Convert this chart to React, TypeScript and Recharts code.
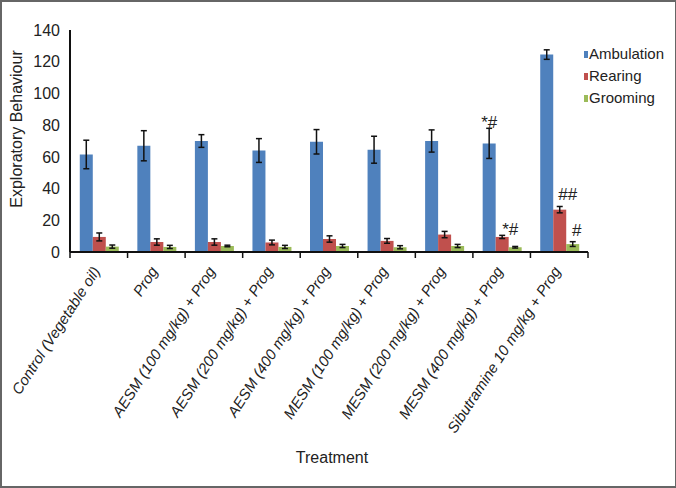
import React from 'react';
import { BarChart, Bar, XAxis, YAxis, ErrorBar, Legend, LabelList, Label } from 'recharts';

const treatments = [
    'Control (Vegetable oil)',
    'Prog',
    'AESM (100 mg/kg) + Prog',
    'AESM (200 mg/kg) + Prog',
    'AESM (400 mg/kg) + Prog',
    'MESM (100 mg/kg) + Prog',
    'MESM (200 mg/kg) + Prog',
    'MESM (400 mg/kg) + Prog',
    'Sibutramine 10 mg/kg + Prog',
];
const ambulation = [61.5, 67, 70, 64, 69.5, 64.5, 70, 68.5, 124.5];
const ambulationErr = [9, 9.5, 4, 7.5, 7.7, 8.5, 7, 9.5, 3];
const rearing = [9.5, 6.3, 6.3, 6, 8.2, 7, 11, 9.5, 26.7];
const rearingErr = [2.5, 2, 2, 1.5, 2, 1.5, 2, 1, 2];
const grooming = [3.4, 3.2, 3.8, 3.2, 3.8, 3, 3.8, 3, 5];
const groomingErr = [1, 1, 0.5, 1, 1, 1, 1, 0.5, 1.5];
const ambulationMarks = ['', '', '', '', '', '', '', '*#', ''];
const rearingMarks = ['', '', '', '', '', '', '', '*#', '##'];
const groomingMarks = ['', '', '', '', '', '', '', '', '#'];
const yTicks = [0, 20, 40, 60, 80, 100, 120, 140];

const BLUE = '#4F81BD';
const RED = '#C0504D';
const GREEN = '#9BBB59';
const FONT = "'Liberation Sans', Arial, sans-serif";

const data = treatments.map((name, i) => ({
    name,
    idx: i,
    ambulation: ambulation[i],
    ambulationErr: ambulationErr[i],
    rearing: rearing[i],
    rearingErr: rearingErr[i],
    grooming: grooming[i],
    groomingErr: groomingErr[i],
}));

const legendItems = [
    { name: 'Ambulation', color: BLUE },
    { name: 'Rearing', color: RED },
    { name: 'Grooming', color: GREEN },
];

// significance marks sit just above the error bar cap
const makeMark = (marks: string[], means: number[], errs: number[], dx: number) => (props: any) => {
    const vb = props.viewBox ?? props;
    const i = Number(props.value);
    const mark = marks[i];
    if (!mark) return null;
    const x = props.x ?? vb.x;
    const y = props.y ?? vb.y;
    const w = props.width ?? vb.width;
    const h = props.height ?? vb.height;
    const unit = h / means[i];
    const top = y - errs[i] * unit;
    const lift = mark.startsWith('*') ? 0 : 6;
    return (
        <text x={x + w / 2 + dx} y={top - lift} textAnchor="middle" fontSize={17} fontFamily={FONT} fill="#222">
            {mark}
        </text>
    );
};

const TreatmentTick = (props: any) => {
    const { x, y, payload, index } = props;
    const half = payload?.offset || 28.75;
    return (
        <g>
            <line x1={x - half} y1={y} x2={x - half} y2={y + 6} stroke="#111" strokeWidth={1.5} />
            {index === treatments.length - 1 && (
                <line x1={x + half} y1={y} x2={x + half} y2={y + 6} stroke="#111" strokeWidth={1.5} />
            )}
            <text
                transform={`translate(${x + 2},${y + 19}) rotate(-57)`}
                textAnchor="end"
                fontStyle="italic"
                fontSize={15}
                fontFamily={FONT}
                fill="#222"
            >
                {payload.value}
            </text>
        </g>
    );
};

const LegendBox = () => (
    <div style={{ fontFamily: FONT, fontSize: 15, color: '#222' }}>
        {legendItems.map((item) => (
            <div key={item.name} style={{ display: 'flex', alignItems: 'center', height: 22 }}>
                <span style={{ width: 4, height: 7, background: item.color, marginRight: 1, marginTop: 3 }} />
                <span>{item.name}</span>
            </div>
        ))}
    </div>
);

export default function App() {
    return (
        <div style={{ position: 'absolute', left: 0, top: 0, width: 676, height: 488, background: '#fff' }}>
            <BarChart
                width={676}
                height={488}
                data={data}
                margin={{ top: 30, right: 4, left: 8, bottom: 20 }}
                barCategoryGap="17%"
                barGap={0}
            >
                <XAxis
                    dataKey="name"
                    interval={0}
                    height={216}
                    tickLine={false}
                    tickSize={0}
                    tickMargin={0}
                    axisLine={{ stroke: '#111', strokeWidth: 2 }}
                    tick={<TreatmentTick />}
                >
                    <Label
                        content={(p: any) => {
                            const vb = p.viewBox;
                            return (
                                <text x={vb.x + vb.width / 2 + 3} y={463} textAnchor="middle" fontSize={16} fontFamily={FONT} fill="#222">
                                    Treatment
                                </text>
                            );
                        }}
                    />
                </XAxis>
                <YAxis
                    width={62}
                    domain={[0, 140]}
                    ticks={yTicks}
                    tickLine={false}
                    tickMargin={4}
                    axisLine={{ stroke: '#111', strokeWidth: 2 }}
                    tick={{ fontSize: 16, fontFamily: FONT, fill: '#222' }}
                >
                    <Label
                        content={() => (
                            <text
                                transform="translate(16,129) rotate(-90)"
                                textAnchor="middle"
                                dominantBaseline="central"
                                fontSize={16}
                                fontFamily={FONT}
                                fill="#222"
                            >
                                Exploratory Behaviour
                            </text>
                        )}
                    />
                </YAxis>
                <Legend
                    layout="vertical"
                    align="right"
                    verticalAlign="top"
                    width={84}
                    wrapperStyle={{ top: 42, left: 584 }}
                    content={<LegendBox />}
                />
                <Bar dataKey="ambulation" name="Ambulation" fill={BLUE} isAnimationActive={false}>
                    <ErrorBar dataKey="ambulationErr" width={3} stroke="#111" strokeWidth={1.5} />
                    <LabelList dataKey="idx" content={makeMark(ambulationMarks, ambulation, ambulationErr, 0)} />
                </Bar>
                <Bar dataKey="rearing" name="Rearing" fill={RED} isAnimationActive={false}>
                    <ErrorBar dataKey="rearingErr" width={3} stroke="#111" strokeWidth={1.5} />
                    <LabelList dataKey="idx" content={makeMark(rearingMarks, rearing, rearingErr, 8)} />
                </Bar>
                <Bar dataKey="grooming" name="Grooming" fill={GREEN} isAnimationActive={false}>
                    <ErrorBar dataKey="groomingErr" width={3} stroke="#111" strokeWidth={1.5} />
                    <LabelList dataKey="idx" content={makeMark(groomingMarks, grooming, groomingErr, 4)} />
                </Bar>
            </BarChart>
            <div
                style={{
                    position: 'absolute',
                    inset: 0,
                    border: '2px solid #666',
                    borderRight: '1px solid #666',
                    borderBottom: '2px solid #666',
                    pointerEvents: 'none',
                }}
            />
        </div>
    );
}
